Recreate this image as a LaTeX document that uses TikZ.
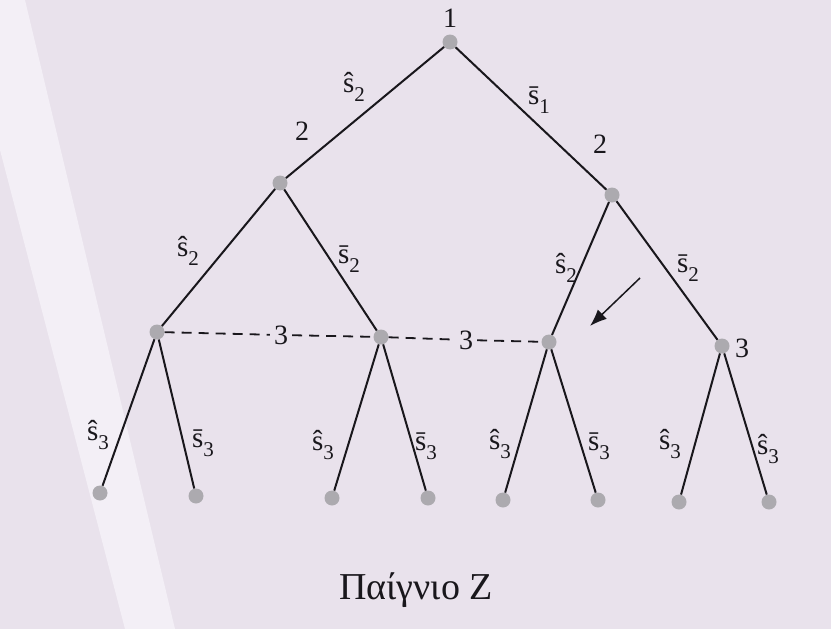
\documentclass[tikz,border=0pt]{standalone}
\usepackage{fontspec}
\setmainfont{Liberation Serif}
\usetikzlibrary{arrows.meta}
\definecolor{paper}{RGB}{233,226,236}
\definecolor{paperlight}{RGB}{243,239,246}
\definecolor{dotgray}{RGB}{172,170,175}
\definecolor{ink}{RGB}{25,23,28}
\newcommand{\subdig}[1]{\raisebox{-0.32em}{\fontsize{21}{21}\selectfont #1}}
\newcommand{\shat}[1]{ŝ\subdig{#1}}
\newcommand{\sbar}[1]{s\char"0304\subdig{#1}}
\begin{document}
\begin{tikzpicture}[x=1pt,y=-1pt,
  vtx/.style={circle,fill=dotgray,inner sep=0pt,minimum size=15pt},
  br/.style={draw=ink,line width=2pt},
  info/.style={draw=ink,line width=1.8pt,dash pattern=on 10pt off 7pt},
  lbl/.style={inner sep=0pt,font=\fontsize{29}{32}\selectfont,text=ink},
  plr/.style={inner sep=0pt,font=\fontsize{28}{30}\selectfont,text=ink}]
\useasboundingbox (0,0) rectangle (831,629);
\fill[paper] (0,0) rectangle (831,629);
\fill[paperlight] (0,0) -- (25,0) -- (175,629) -- (125,629) -- (0,150) -- cycle;
% vertices
\node[vtx] (r) at (450,42) {};
\node[vtx] (a) at (280,183) {};
\node[vtx] (b) at (612,195) {};
\node[vtx] (c1) at (157,332) {};
\node[vtx] (c2) at (381,337) {};
\node[vtx] (c3) at (549,342) {};
\node[vtx] (c4) at (722,346) {};
\node[vtx] (l1) at (100,493) {};
\node[vtx] (l2) at (196,496) {};
\node[vtx] (l3) at (332,498) {};
\node[vtx] (l4) at (428,498) {};
\node[vtx] (l5) at (503,500) {};
\node[vtx] (l6) at (598,500) {};
\node[vtx] (l7) at (679,502) {};
\node[vtx] (l8) at (769,502) {};
% branches
\draw[br] (r) -- (a);
\draw[br] (r) -- (b);
\draw[br] (a) -- (c1);
\draw[br] (a) -- (c2);
\draw[br] (b) -- (c3);
\draw[br] (b) -- (c4);
\draw[br] (c1) -- (l1);
\draw[br] (c1) -- (l2);
\draw[br] (c2) -- (l3);
\draw[br] (c2) -- (l4);
\draw[br] (c3) -- (l5);
\draw[br] (c3) -- (l6);
\draw[br] (c4) -- (l7);
\draw[br] (c4) -- (l8);
% player labels
\node[plr] (p1) at (450,18) {1};
\node[plr] (p2a) at (302,131) {2};
\node[plr] (p2b) at (600,144) {2};
\node[plr,fill=paper,inner sep=4pt] (p3a) at (281,335) {3};
\node[plr,fill=paper,inner sep=4pt] (p3b) at (466,340) {3};
\node[plr] (p3c) at (742,348) {3};
% information set
\draw[info] (c1) -- (p3a);
\draw[info] (p3a) -- (c2);
\draw[info] (c2) -- (p3b);
\draw[info] (p3b) -- (c3);
% action labels
\node[lbl] (e1) at (354,87) {\shat{2}};
\node[lbl] (e2) at (539,100) {\sbar{1}};
\node[lbl] (e3) at (188,251) {\shat{2}};
\node[lbl] (e4) at (349,259) {\sbar{2}};
\node[lbl] (e5) at (566,268) {\shat{2}};
\node[lbl] (e6) at (688,268) {\sbar{2}};
\node[lbl] (e7) at (98,435) {\shat{3}};
\node[lbl] (e8) at (203,443) {\sbar{3}};
\node[lbl] (e9) at (323,445) {\shat{3}};
\node[lbl] (e10) at (426,446) {\sbar{3}};
\node[lbl] (e11) at (500,444) {\shat{3}};
\node[lbl] (e12) at (599,446) {\sbar{3}};
\node[lbl] (e13) at (670,444) {\shat{3}};
\node[lbl] (e14) at (768,449) {\shat{3}};
% arrow
\coordinate (as) at (640,278);
\coordinate (ae) at (590,326);
\draw[ink,line width=1.5pt,-{Latex[length=17pt,width=13pt]}] (as) -- (ae);
% title
\node[inner sep=0pt,font=\fontsize{38}{42}\selectfont,text=ink] (t) at (416,590) {Παίγνιο Z};
\end{tikzpicture}
\end{document}
